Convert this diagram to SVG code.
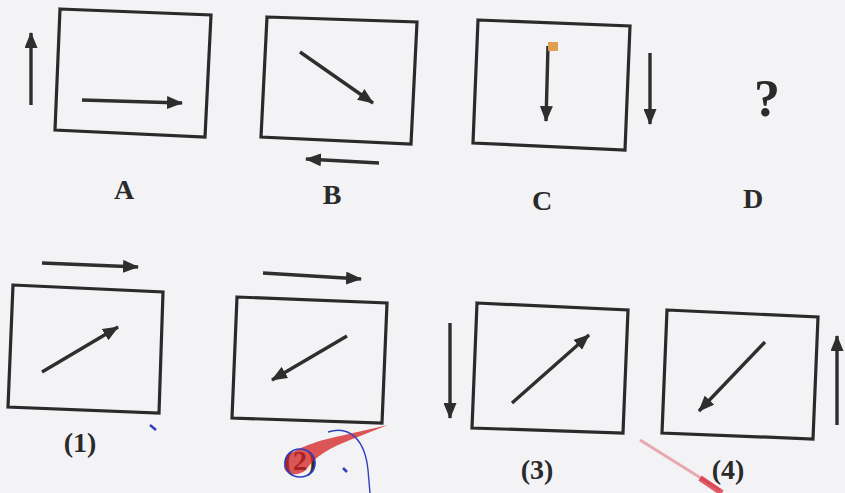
<svg xmlns="http://www.w3.org/2000/svg" width="845" height="493" viewBox="0 0 845 493">
<defs>
<style>
.box{fill:none;stroke:#2a2a2a;stroke-width:3.2;stroke-linejoin:miter}
.arr{fill:none;stroke:#2e2e2e;stroke-width:3.4;marker-end:url(#ah)}
.lbl{font-family:"Liberation Serif","DejaVu Serif",serif;font-weight:bold;font-size:28px;fill:#2a2a2a;text-anchor:middle}
</style>
<marker id="ah" markerUnits="userSpaceOnUse" markerWidth="17" markerHeight="13" refX="15" refY="6.5" orient="auto">
<path d="M0,0 L16,6.5 L0,13 Z" fill="#2e2e2e"/>
</marker>
</defs>
<rect width="845" height="493" fill="#f3f3f5"/>
<g id="nodeA">
<polygon class="box" points="60,9 211,15 205,137 55,130"/>
<line class="arr" x1="82" y1="100" x2="182" y2="103"/>
<line class="arr" x1="31" y1="105" x2="31" y2="33"/>
<text class="lbl" x="124" y="199">A</text>
</g>
<g id="nodeB">
<polygon class="box" points="267,17 417,22 411,144 261,137"/>
<line class="arr" x1="300" y1="52" x2="373" y2="103"/>
<line class="arr" x1="379" y1="163" x2="306" y2="159"/>
<text class="lbl" x="332" y="204">B</text>
</g>
<g id="nodeC">
<polygon class="box" points="478,20 630,26 625,150 473,143"/>
<line class="arr" x1="548" y1="46" x2="546" y2="121"/>
<rect x="548" y="42" width="10" height="9" fill="#e0a050"/>
<line class="arr" x1="650" y1="53" x2="650" y2="124"/>
<text class="lbl" x="542" y="210">C</text>
</g>
<g id="nodeD">
<text class="lbl" x="767" y="116" style="font-size:52px">?</text>
<text class="lbl" x="753" y="208">D</text>
</g>
<g id="opt1">
<polygon class="box" points="13,285 163,292 159,413 8,407"/>
<line class="arr" x1="42" y1="372" x2="118" y2="327"/>
<line class="arr" x1="42" y1="263" x2="138" y2="267"/>
<text class="lbl" x="80" y="452">(1)</text>
</g>
<g id="opt2">
<polygon class="box" points="237,297 387,303 382,423 232,418"/>
<line class="arr" x1="347" y1="336" x2="272" y2="380"/>
<line class="arr" x1="263" y1="273" x2="361" y2="279"/>
<text class="lbl" x="300" y="470">(2)</text>
<path d="M285,458 C295,448 320,440 340,436 L388,425 L350,440 C330,448 315,456 306,470 C296,478 284,474 284,466 Z" fill="#d42020" opacity="0.75"/>
<ellipse cx="300" cy="463" rx="15" ry="14" fill="none" stroke="#3040c0" stroke-width="1.6"/>
<path d="M328,432 C350,425 365,440 368,470 L370,493" fill="none" stroke="#3040c0" stroke-width="1.4"/>
<path d="M150,425 l6,5" stroke="#3040c0" stroke-width="2.5"/>
<path d="M343,468 l4,4" stroke="#3040c0" stroke-width="2.5"/>
</g>
<g id="opt3">
<polygon class="box" points="477,303 628,310 623,433 472,428"/>
<line class="arr" x1="512" y1="403" x2="589" y2="335"/>
<line class="arr" x1="450" y1="323" x2="450" y2="418"/>
<text class="lbl" x="537" y="479">(3)</text>
</g>
<g id="opt4">
<polygon class="box" points="667,310 818,317 813,439 662,433"/>
<line class="arr" x1="765" y1="342" x2="699" y2="411"/>
<line class="arr" x1="837" y1="425" x2="837" y2="336"/>
<text class="lbl" x="728" y="479">(4)</text>
<path d="M640,440 L720,490" stroke="#e06070" stroke-width="3" opacity="0.5"/>
<path d="M700,478 L722,493" stroke="#d42030" stroke-width="6" opacity="0.7"/>
</g>
</svg>
